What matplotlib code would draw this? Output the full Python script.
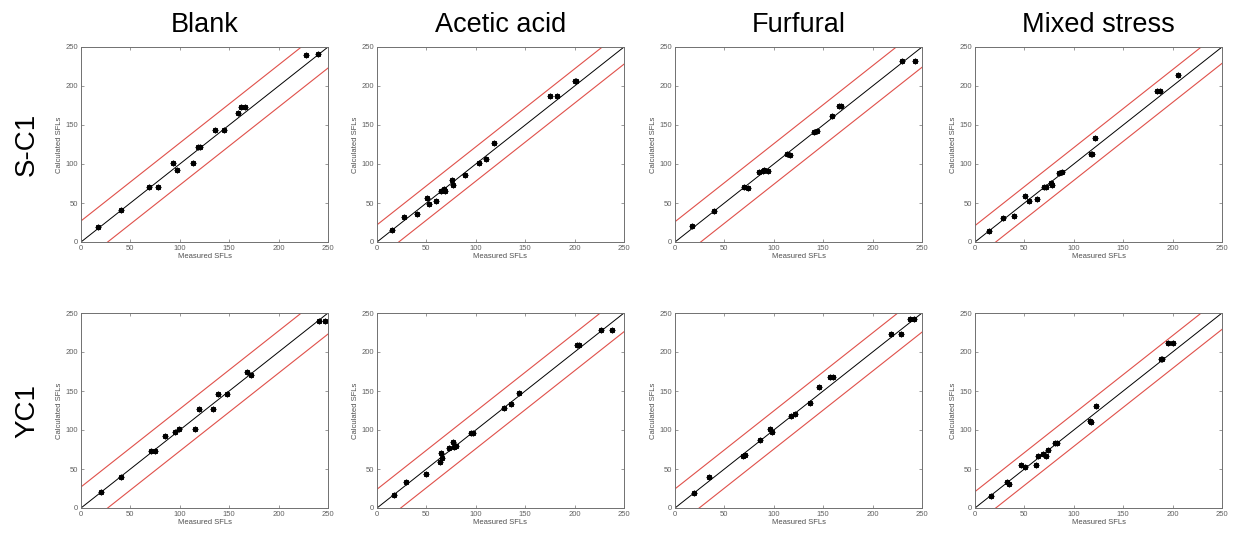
import numpy as np
import matplotlib.pyplot as plt

plt.rcParams['font.family'] = ['Liberation Sans', 'DejaVu Sans']

conditions = ["Blank", "Acetic acid", "Furfural", "Mixed stress"]
strains = ["S-C1", "YC1"]

# measured vs calculated SFLs, S-C1
blank_sc1_x = [17, 40, 69, 78, 93, 97, 113, 118, 120, 136, 145, 159, 161.5, 166, 228, 240]
blank_sc1_y = [19, 41, 71, 71, 101, 92, 101, 122, 122, 144, 144, 165, 173, 173, 240, 241]
acetic_sc1_x = [15, 27, 40, 51, 53, 59.5, 65, 67.5, 69, 75.7, 77, 89, 103, 110, 118, 175, 182, 200.7, 201.7]
acetic_sc1_y = [16, 32, 36.5, 57, 49, 53, 65, 68, 65, 80, 73.5, 85.5, 101, 107, 127, 187, 187, 207, 207]
furfural_sc1_x = [17.5, 39.4, 70, 74, 85, 88.6, 90, 93.7, 113, 116.6, 141, 143.5, 159, 165.8, 167.8, 230, 242.6]
furfural_sc1_y = [20, 40, 70.4, 69, 90, 91, 92, 90.6, 113, 112, 141, 142, 161.5, 174, 174, 232, 232]
mixed_sc1_x = [14, 28.4, 39.5, 51, 55, 63, 69.6, 71.6, 77, 77.7, 85.5, 88, 117.6, 118.6, 121.6, 184.5, 187, 205.4]
mixed_sc1_y = [14.6, 30.5, 33, 58.4, 53, 55, 71, 71, 75.6, 73, 88, 90, 113.4, 112.5, 133.6, 194, 194, 214]

# measured vs calculated SFLs, YC1
blank_yc1_x = [20, 40, 71, 75, 84.6, 95, 98.8, 115.7, 119.4, 134, 139, 148, 168, 171.6, 241, 247]
blank_yc1_y = [20, 39.6, 72.8, 72.8, 92.8, 97, 101, 101, 126.5, 126.5, 146, 146, 174.6, 170.8, 240, 240]
acetic_yc1_x = [17.6, 29, 49.7, 64, 65, 66, 73, 77, 78.4, 80.4, 95, 97, 129, 135.8, 144, 202.7, 204, 227, 237.5]
acetic_yc1_y = [16.2, 33.6, 43.9, 59.6, 71, 64, 77.5, 84.8, 78.4, 79.6, 96.7, 96.7, 127.8, 133.3, 147.8, 208.7, 208.7, 228, 228.3]
furfural_yc1_x = [18.9, 34.7, 69, 70.4, 85.6, 95.7, 97.7, 117.6, 121, 136.5, 146, 157, 160, 219, 228.8, 238, 241.6]
furfural_yc1_y = [19, 40, 66.9, 68, 87.7, 101, 97.5, 118.4, 121, 135, 155.5, 167.8, 167.8, 222.7, 222.7, 242, 242.3]
mixed_yc1_x = [16, 32, 34.7, 46.5, 51, 61.6, 63.7, 68.7, 72, 73.8, 81, 83, 116, 117, 122.6, 188, 189, 195.7, 200.8]
mixed_yc1_y = [16, 33, 31, 55, 52, 55.4, 67, 68.6, 67, 75, 83, 83, 111.6, 110.7, 131, 191, 191, 211.7, 211.7]

# half-width of the prediction band for each panel
band_sc1 = [27, 22, 26, 21]
band_yc1 = [27, 24, 24.5, 21]

panels = [
    [(blank_sc1_x, blank_sc1_y), (acetic_sc1_x, acetic_sc1_y),
     (furfural_sc1_x, furfural_sc1_y), (mixed_sc1_x, mixed_sc1_y)],
    [(blank_yc1_x, blank_yc1_y), (acetic_yc1_x, acetic_yc1_y),
     (furfural_yc1_x, furfural_yc1_y), (mixed_yc1_x, mixed_yc1_y)],
]
bands = [band_sc1, band_yc1]

W, H = 1233, 535
fig = plt.figure(figsize=(W / 100, H / 100), dpi=100)

lefts = [81, 377, 675, 975]
tops = [47, 313]
aw, ah = 247, 195

grey = '#707070'
line = np.array([0, 250])

for r in range(2):
    for c in range(4):
        ax = fig.add_axes([lefts[c] / W, 1 - (tops[r] + ah) / H, aw / W, ah / H])
        x, y = panels[r][c]
        b = bands[r][c]
        ax.plot(line, line, color='black', lw=0.7)
        ax.plot(line, line + b, color='#e0504a', lw=0.8)
        ax.plot(line, line - b, color='#e0504a', lw=0.8)
        ax.plot(x, y, linestyle='none', marker=(8, 2, 0), ms=4, mew=0.9, color='black')
        ax.set_xlim(0, 250)
        ax.set_ylim(0, 250)
        ax.set_xticks(range(0, 251, 50))
        ax.set_yticks(range(0, 251, 50))
        ax.tick_params(direction='in', length=2.5, width=0.5, labelsize=5.5,
                       colors=grey, labelcolor='#606060', top=True, right=True, pad=2)
        for s in ax.spines.values():
            s.set_color(grey)
            s.set_linewidth(0.7)
        ax.set_xlabel("Measured SFLs", fontsize=5.5, color='#505050', labelpad=1)
        ax.set_ylabel("Calculated SFLs", fontsize=5.5, color='#505050', labelpad=2)
        if r == 0:
            fig.text((lefts[c] + aw / 2) / W, 1 - 25 / H, conditions[c],
                     ha='center', va='center', fontsize=19.5)
    fig.text(27 / W, 1 - (tops[r] + ah / 2) / H, strains[r], rotation=90,
             ha='center', va='center', fontsize=20)

fig.savefig("out.png", dpi=100, facecolor='white')
